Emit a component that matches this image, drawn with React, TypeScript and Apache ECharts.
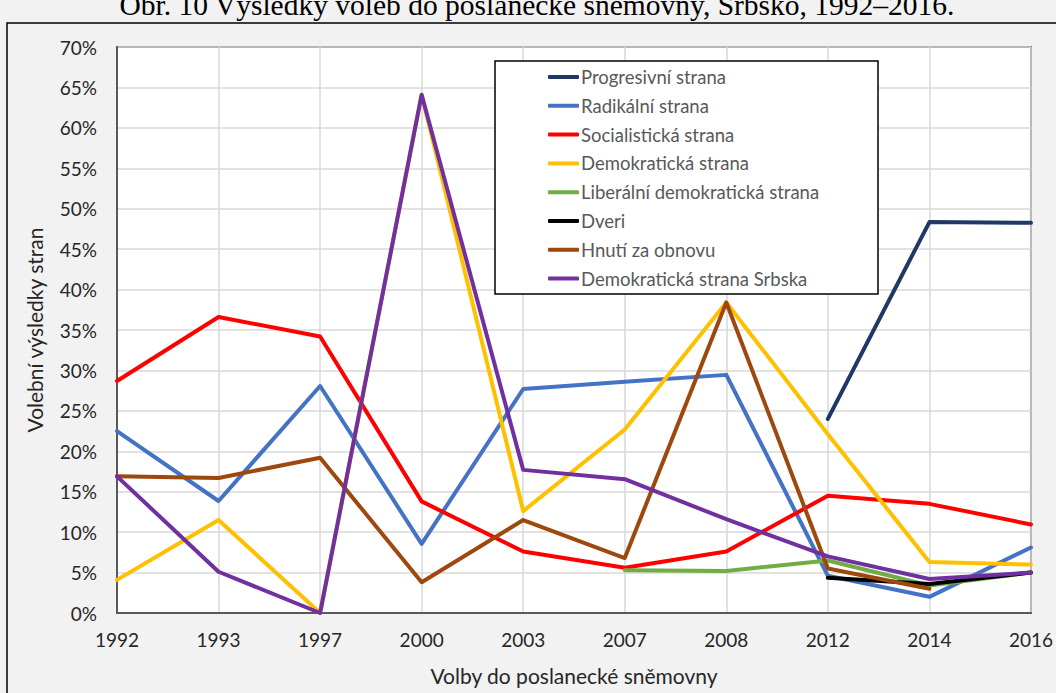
import React, { useEffect, useRef } from "react";
import * as echarts from "echarts";

const years = ["1992", "1993", "1997", "2000", "2003", "2007", "2008", "2012", "2014", "2016"];
const partyNames = [
  "Progresivní strana",
  "Radikální strana",
  "Socialistická strana",
  "Demokratická strana",
  "Liberální demokratická strana",
  "Dveri",
  "Hnutí za obnovu",
  "Demokratická strana Srbska",
];
const progresivni = [null, null, null, null, null, null, null, 24.0, 48.35, 48.25];
const radikalni = [22.5, 13.85, 28.07, 8.55, 27.7, 28.6, 29.45, 4.6, 2.0, 8.1];
const socialisticka = [28.7, 36.6, 34.2, 13.8, 7.6, 5.6, 7.6, 14.5, 13.5, 10.95];
const demokraticka = [4.1, 11.5, 0, 64.1, 12.6, 22.7, 38.4, 22.1, 6.3, 6.0];
const liberalni = [null, null, null, null, null, 5.3, 5.2, 6.5, 3.4, 5.0];
const dveri = [null, null, null, null, null, null, null, 4.35, 3.6, 5.0];
const hnuti = [16.9, 16.7, 19.2, 3.8, 11.5, 6.8, 38.4, 5.5, 3.0, null];
const dss = [16.9, 5.1, 0, 64.1, 17.7, 16.55, 11.6, 7.0, 4.2, 5.0];
const seriesValues = [progresivni, radikalni, socialisticka, demokraticka, liberalni, dveri, hnuti, dss];
const colors = ["#203864", "#4472c4", "#ff0000", "#ffc000", "#70ad47", "#000000", "#9e480e", "#7030a0"];

const titleText = "Obr. 10 Výsledky voleb do poslanecké sněmovny, Srbsko, 1992–2016.";
const yAxisTitle = "Volební výsledky stran";
const xAxisTitle = "Volby do poslanecké sněmovny";

const FONT = "Lato, 'Open Sans', sans-serif";

export default function App() {
  const ref = useRef<HTMLDivElement>(null);
  useEffect(() => {
    if (!ref.current) return;
    const chart = echarts.init(ref.current, undefined, { renderer: "svg" });
    chart.setOption({
      animation: false,
      backgroundColor: "#f2f2f2",
      textStyle: { fontFamily: FONT },
      grid: {
        left: 117,
        right: 21,
        top: 47,
        bottom: 80,
        show: true,
        backgroundColor: "#ffffff",
        borderColor: "#595959",
        borderWidth: 2,
      },
      graphic: [
        {
          type: "rect",
          shape: { x: 7, y: 23, width: 1070, height: 700 },
          style: { fill: "none", stroke: "#000000", lineWidth: 1.5 },
          z: 1,
          silent: true,
        },
        {
          type: "text",
          x: 537,
          y: -10,
          style: {
            text: titleText,
            fontFamily: "'Liberation Serif', 'Times New Roman', serif",
            fontSize: 29.5,
            fill: "#000000",
            textAlign: "center",
            textVerticalAlign: "top",
          },
          silent: true,
        },
        {
          type: "rect",
          shape: { x: 495, y: 61, width: 383, height: 233 },
          style: { fill: "#ffffff", stroke: "#000000", lineWidth: 1.5 },
          z: 3,
          silent: true,
        },
      ],
      legend: {
        orient: "vertical",
        left: 543,
        top: 62,
        padding: [5, 5, 5, 5],
        itemWidth: 31,
        itemHeight: 4,
        itemGap: 8.8,
        icon: "roundRect",
        data: partyNames,
        textStyle: {
          fontFamily: FONT,
          fontSize: 18.5,
          color: "#595959",
          lineHeight: 20,
          padding: [0, 0, 0, -3],
        },
        z: 5,
      },
      xAxis: {
        type: "category",
        data: years,
        boundaryGap: false,
        axisLine: { show: true, lineStyle: { color: "#595959", width: 2 } },
        axisTick: { show: false },
        axisLabel: { color: "#262626", fontSize: 19, margin: 17, fontFamily: FONT },
        splitLine: { show: true, lineStyle: { color: "#d9d9d9", width: 1.5 } },
        name: xAxisTitle,
        nameLocation: "middle",
        nameGap: 52,
        nameTextStyle: { color: "#262626", fontSize: 21, fontFamily: FONT },
      },
      yAxis: {
        type: "value",
        min: 0,
        max: 70,
        interval: 5,
        axisLine: { show: true, lineStyle: { color: "#595959", width: 2 } },
        axisTick: { show: false },
        axisLabel: { color: "#262626", fontSize: 19, margin: 20, formatter: "{value}%", fontFamily: FONT },
        splitLine: { show: true, lineStyle: { color: "#d9d9d9", width: 1.5 } },
        name: yAxisTitle,
        nameLocation: "middle",
        nameGap: 72,
        nameTextStyle: { color: "#262626", fontSize: 21, fontFamily: FONT },
      },
      series: partyNames.map((name, i) => ({
        name,
        type: "line",
        data: seriesValues[i],
        showSymbol: false,
        symbol: "none",
        connectNulls: false,
        color: colors[i],
        lineStyle: { color: colors[i], width: 4, join: "round", cap: "round" },
        itemStyle: { color: colors[i] },
        z: 2,
      })),
    });
    return () => chart.dispose();
  }, []);
  return (
    <div
      ref={ref}
      style={{ position: "absolute", left: 0, top: 0, width: 1056, height: 693 }}
    />
  );
}
